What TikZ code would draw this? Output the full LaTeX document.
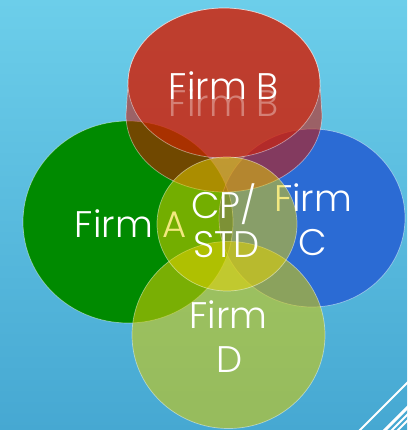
\documentclass[tikz,border=0pt]{standalone}
\usepackage{fontspec}
\setmainfont{Poppins}[UprightFont=* Light]
\definecolor{bgtop}{RGB}{108,206,234}
\definecolor{bgbot}{RGB}{70,168,210}
\definecolor{firmA}{RGB}{0,138,0}
\definecolor{firmC}{RGB}{43,107,212}
\definecolor{firmAC}{RGB}{20,80,110}
\definecolor{firmBband}{RGB}{204,18,0}
\definecolor{firmBface}{RGB}{212,27,0}
\definecolor{firmD}{RGB}{209,202,8}
\definecolor{cpstd}{RGB}{230,210,0}
\begin{document}
\begin{tikzpicture}[x=1pt,y=-1pt,
  rim/.style={draw=white, draw opacity=0.45, line width=0.7pt},
  lbl/.style={text=white, font=\fontsize{37}{40}\selectfont, inner sep=0pt, anchor=base},
  deco/.style={draw=white, line cap=butt}]
\useasboundingbox (0,0) rectangle (407,430);
\shade[top color=bgtop, bottom color=bgbot] (0,0) rectangle (407,430);
\coordinate (cA) at (128,222);
\coordinate (cC) at (312,218);
\coordinate (cB) at (224,83);
\coordinate (cD) at (228.5,335);
\coordinate (cP) at (227,224);
% Firm A and Firm C
\fill[firmA] (cA) ellipse [x radius=105, y radius=101];
\fill[firmC] (cC) ellipse [x radius=93, y radius=89];
\begin{scope}
  \clip (cA) ellipse [x radius=105, y radius=101];
  \fill[firmAC] (cC) ellipse [x radius=93, y radius=89];
\end{scope}
\draw[rim] (cA) ellipse [x radius=105, y radius=101];
\draw[rim] (cC) ellipse [x radius=93, y radius=89];
% Firm B (tilted disc)
\fill[firmBband, fill opacity=0.55, even odd rule]
  (128,83) arc[start angle=180, end angle=360, x radius=96, y radius=75]
  -- (322,115) arc[start angle=0, end angle=180, x radius=98, y radius=77] -- cycle
  (cB) ellipse [x radius=96, y radius=75];
\fill[firmBface, fill opacity=0.8] (cB) ellipse [x radius=96, y radius=75];
\draw[rim]
  (128,83) arc[start angle=180, end angle=360, x radius=96, y radius=75]
  -- (322,115) arc[start angle=0, end angle=180, x radius=98, y radius=77] -- cycle;
\draw[rim] (cB) ellipse [x radius=96, y radius=75];
\node[lbl, opacity=0.35] (lBr) at (224,117) {Firm B};
\node[lbl] (lB) at (224,100) {Firm B};
% Firm D
\fill[firmD, fill opacity=0.58] (cD) ellipse [x radius=96.5, y radius=93.5];
\draw[rim] (cD) ellipse [x radius=96.5, y radius=93.5];
% labels under the centre circle
\node[lbl] (lA) at (131,237) {Firm A};
\node[lbl] (lC1) at (313,211) {Firm};
\node[lbl] (lC2) at (312.5,255) {C};
\node[lbl] (lD1) at (228.5,328) {Firm};
\node[lbl] (lD2) at (229.5,372) {D};
% centre circle
\fill[cpstd, fill opacity=0.5] (cP) ellipse [x radius=70, y radius=67];
\draw[rim] (cP) ellipse [x radius=70, y radius=67];
\node[lbl] (lP1) at (224,218) {CP/};
\node[lbl] (lP2) at (226.5,257) {STD};
% corner decoration
\coordinate (d1a) at (409,381); \coordinate (d1b) at (358,432);
\coordinate (d2a) at (409,406); \coordinate (d2b) at (383,432);
\coordinate (d3a) at (409,413); \coordinate (d3b) at (390,432);
\coordinate (d4a) at (409,419); \coordinate (d4b) at (396,432);
\draw[deco, line width=1.8] (d1a) -- (d1b);
\draw[deco, line width=3] (d2a) -- (d2b);
\draw[deco, line width=2] (d3a) -- (d3b);
\draw[deco, line width=2] (d4a) -- (d4b);
\end{tikzpicture}
\end{document}
